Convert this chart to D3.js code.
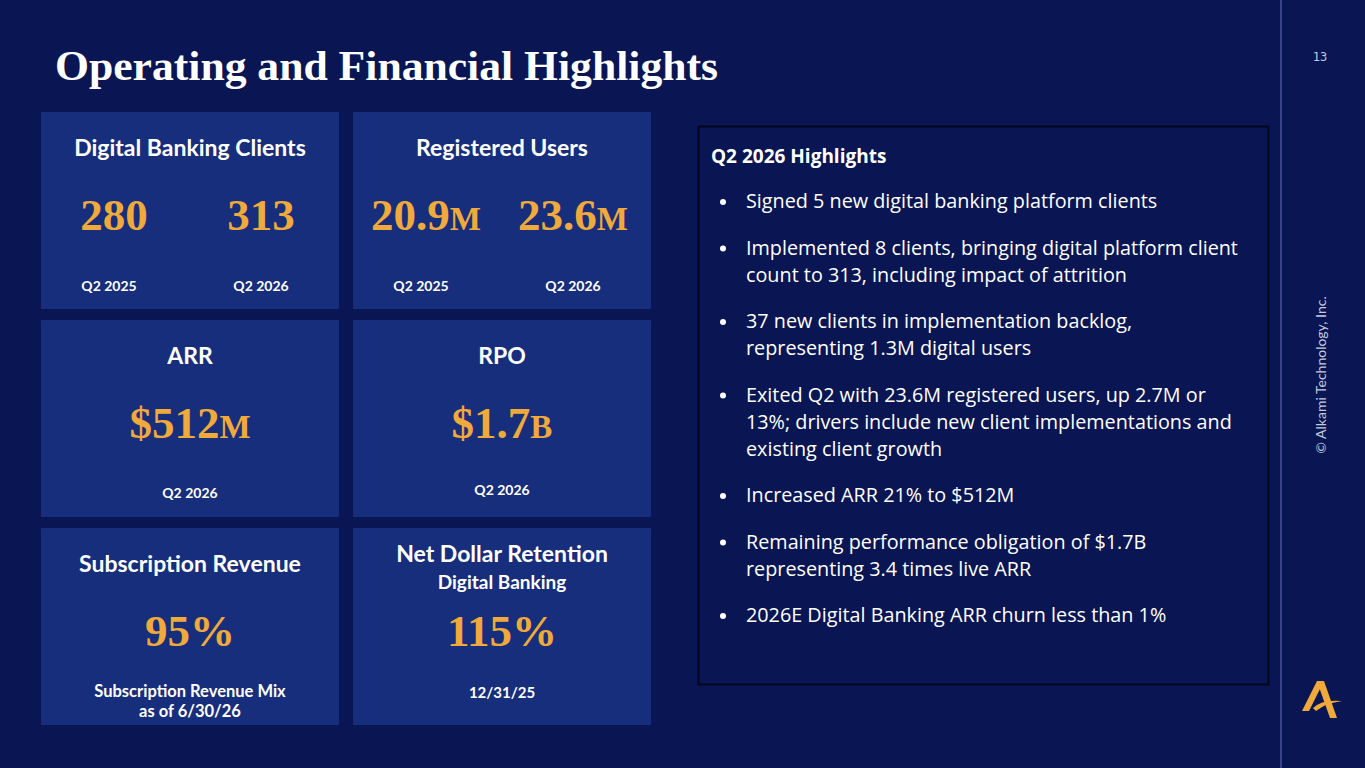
<!DOCTYPE html>
<html>
<head>
<meta charset="utf-8">
<script src="https://cdn.jsdelivr.net/npm/d3@7"></script>
<style>
body { margin: 0; background: #0a1653; }
svg { display: block; }
</style>
</head>
<body>
<svg id="view" width="1365" height="768"></svg>
<script>
// tile data
const tileTitles = ['Digital Banking Clients', 'Registered Users', 'ARR', 'RPO', 'Subscription Revenue', 'Net Dollar Retention'];
const tileSubtitles = ['', '', '', '', '', 'Digital Banking'];
const tilePrefixes = ['', '', '$', '$', '', ''];
const tileValues = [[280, 313], [20.9, 23.6], [512], [1.7], [95], [115]];
const tileUnits = ['', 'M', 'M', 'B', '%', '%'];
const tileLabels = [['Q2 2025', 'Q2 2026'], ['Q2 2025', 'Q2 2026'], ['Q2 2026'], ['Q2 2026'], ['Subscription Revenue Mix', 'as of 6/30/26'], ['12/31/25']];

const highlightTitle = 'Q2 2026 Highlights';
const highlightItems = [
    ['Signed 5 new digital banking platform clients'],
    ['Implemented 8 clients, bringing digital platform client', 'count to 313, including impact of attrition'],
    ['37 new clients in implementation backlog,', 'representing 1.3M digital users'],
    ['Exited Q2 with 23.6M registered users, up 2.7M or', '13%; drivers include new client implementations and', 'existing client growth'],
    ['Increased ARR 21% to $512M'],
    ['Remaining performance obligation of $1.7B', 'representing 3.4 times live ARR'],
    ['2026E Digital Banking ARR churn less than 1%']
];

const BG='#0a1653', TILE='#172e7c', GOLD='#f0a93b', WHITE='#ffffff';
const SANS='Lato, "Open Sans", sans-serif', SERIF='"Liberation Serif", "DejaVu Serif", serif';
const BODY='"Open Sans", Lato, sans-serif';

var view = d3.select('#view');
view.append('rect').attr('width', 1365).attr('height', 768).attr('fill', BG);

// title
view.append('text')
    .attr('x', 55).attr('y', 80)
    .attr('font-family', SERIF).attr('font-weight', 'bold')
    .attr('font-size', 42).attr('fill', WHITE)
    .attr('textLength', 663).attr('lengthAdjust', 'spacingAndGlyphs')
    .text('Operating and Financial Highlights');

// side rule, page number, copyright
view.append('line').attr('x1', 1281).attr('x2', 1281).attr('y1', 0).attr('y2', 768)
    .attr('stroke', '#34458a').attr('stroke-width', 2);
view.append('text').attr('x', 1320).attr('y', 61).attr('text-anchor', 'middle')
    .attr('font-family', '"DejaVu Sans Mono", monospace').attr('font-size', 12)
    .attr('fill', '#c4c9dc').text('13');
view.append('text').attr('transform', 'translate(1326,375) rotate(-90)')
    .attr('text-anchor', 'middle').attr('font-family', SANS).attr('font-size', 14)
    .attr('fill', '#c4c9dc').text('© Alkami Technology, Inc.');

// logo
var logo = view.append('g').attr('fill', GOLD);
logo.append('path').attr('d', 'M1302,711 L1317,681 L1324,681 L1309,711 Z');
logo.append('path').attr('d', 'M1324,681 L1337,718 L1330,718 L1319,687 Z');
logo.append('path').attr('d', 'M1313,708 Q1322,699 1342,701 Q1326,703 1316,711 Z');

// tile grid
var tiles = tileTitles.map(function(t, i) {
    return {i: i, col: i % 2, row: Math.floor(i / 2), title: t, sub: tileSubtitles[i],
        prefix: tilePrefixes[i], values: tileValues[i], unit: tileUnits[i], labels: tileLabels[i]};
});
var xBand = d3.scaleBand().domain([0, 1]).range([41, 651]).paddingInner(0.045);
var yBand = d3.scaleBand().domain([0, 1, 2]).range([112, 725]).paddingInner(0.053);
var W = xBand.bandwidth(), H = yBand.bandwidth();

var tile = view.selectAll('g.tile').data(tiles).enter().append('g')
    .attr('class', 'tile')
    .attr('transform', d => 'translate(' + xBand(d.col) + ',' + yBand(d.row) + ')');
tile.append('rect').attr('width', W).attr('height', H).attr('fill', TILE);

tile.append('text')
    .attr('x', W / 2).attr('y', d => d.sub ? 34 : 44)
    .attr('text-anchor', 'middle').attr('font-family', SANS).attr('font-weight', 'bold')
    .attr('font-size', 23).attr('fill', WHITE)
    .text(d => d.title);
tile.filter(d => d.sub).append('text')
    .attr('x', W / 2).attr('y', 61)
    .attr('text-anchor', 'middle').attr('font-family', SANS).attr('font-weight', 'bold')
    .attr('font-size', 19).attr('fill', WHITE)
    .text(d => d.sub);

// value positions inside a tile
var valX = d3.scalePoint().domain([0, 1]).range([73, 220]);
var labX = d3.scalePoint().domain([0, 1]).range([68, 220]);

tile.each(function(d) {
    var g = d3.select(this);
    var smallUnit = d.unit == 'M' || d.unit == 'B';
    d.values.forEach(function(v, k) {
        var x = d.values.length > 1 ? valX(k) : W / 2;
        var t = g.append('text')
            .attr('x', x).attr('y', 118)
            .attr('text-anchor', 'middle').attr('font-family', SERIF).attr('font-weight', 'bold')
            .attr('font-size', 45).attr('fill', GOLD);
        t.append('tspan').text(d.prefix + v + (smallUnit ? '' : d.unit));
        if(smallUnit)
            t.append('tspan').attr('font-size', 33).text(d.unit);
    });
    if(d.labels.length == 2 && d.values.length == 2) {
        d.labels.forEach(function(l, k) {
            g.append('text').attr('x', labX(k)).attr('y', 179)
                .attr('text-anchor', 'middle').attr('font-family', SANS).attr('font-weight', 'bold')
                .attr('font-size', 14).attr('fill', WHITE).text(l);
        });
    } else {
        var y0 = d.labels.length == 2 ? 169 : (d.i == 3 ? 175 : (d.i == 5 ? 170 : 178));
        var fs = d.i == 4 ? 16.5 : (d.i == 5 ? 15 : 14);
        d.labels.forEach(function(l, k) {
            g.append('text').attr('x', W / 2).attr('y', y0 + k * 20)
                .attr('text-anchor', 'middle').attr('font-family', SANS).attr('font-weight', 'bold')
                .attr('font-size', fs).attr('fill', WHITE).text(l);
        });
    }
});

// highlights box
var box = view.append('g');
box.append('rect').attr('x', 698.5).attr('y', 126.5).attr('width', 570).attr('height', 558)
    .attr('fill', BG).attr('stroke', '#02061c').attr('stroke-width', 2);
box.append('text').attr('x', 711).attr('y', 163)
    .attr('font-family', BODY).attr('font-weight', 'bold').attr('font-size', 19)
    .attr('fill', WHITE).text(highlightTitle);

var LINE = 27, GAP = 46.5;
var y = 208;
highlightItems.forEach(function(lines) {
    box.append('circle').attr('cx', 723).attr('cy', y - 6).attr('r', 3).attr('fill', WHITE);
    lines.forEach(function(l, k) {
        box.append('text').attr('x', 746).attr('y', y + k * LINE)
            .attr('font-family', BODY).attr('font-size', 19.8).attr('fill', WHITE).text(l);
    });
    y += (lines.length - 1) * LINE + GAP;
});
</script>
</body>
</html>
